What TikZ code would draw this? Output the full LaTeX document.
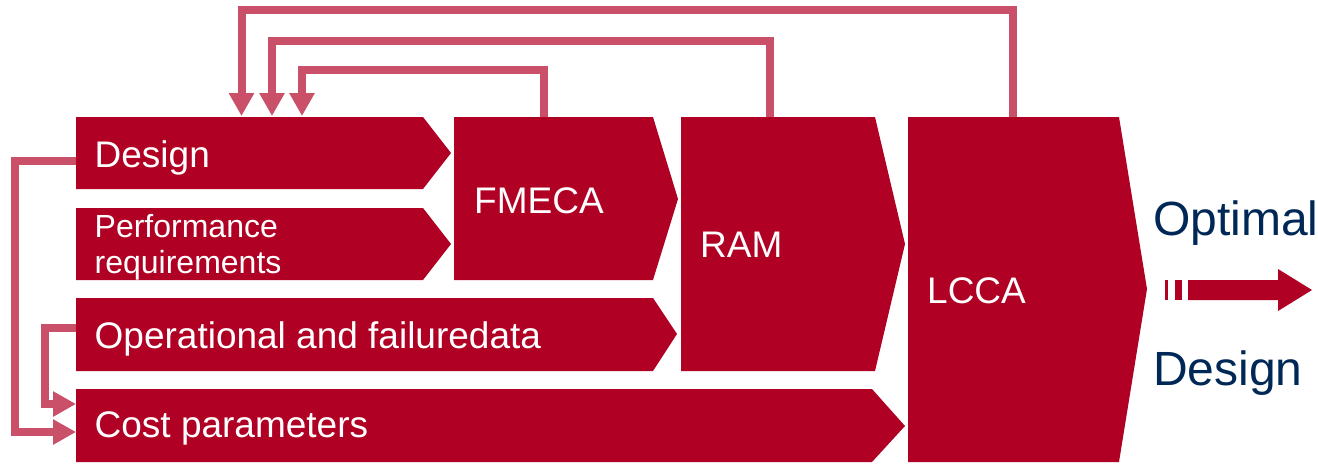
\documentclass[tikz,border=0pt]{standalone}
\usepackage{fontspec}
\setmainfont{Liberation Sans}
\usetikzlibrary{arrows.meta}
\definecolor{boxred}{RGB}{176,0,36}
\definecolor{linkred}{RGB}{201,80,104}
\definecolor{textblue}{RGB}{0,40,86}
\tikzset{
  boxtext/.style={text=white, anchor=base west, inner sep=0pt, font=\fontsize{37}{37}\selectfont},
  smalltext/.style={boxtext, font=\fontsize{32}{36}\selectfont, align=left},
  outtext/.style={text=textblue, anchor=base west, inner sep=0pt, font=\fontsize{48}{48}\selectfont},
  feedback/.style={draw=linkred, line width=8pt, -{Triangle[width=24pt,length=23pt]}},
}
\begin{document}
\begin{tikzpicture}[x=1pt, y=-1pt]
        \useasboundingbox (0,0) rectangle (1318,464);

        % Design
        \fill[boxred] (76,117) -- (423,117) -- (451,153) -- (423,189) -- (76,189) -- cycle;
        \node[boxtext] (design) at (94.5,167) {Design};

        % Performance requirements
        \fill[boxred] (76,208) -- (423,208) -- (451,244) -- (423,280) -- (76,280) -- cycle;
        \node[smalltext] (perf) at (94.5,273) {Performance\\requirements};

        % FMECA
        \fill[boxred] (454,117) -- (653,117) -- (678,199) -- (653,280) -- (454,280) -- cycle;
        \node[boxtext] (fmeca) at (474,213) {FMECA};

        % RAM
        \fill[boxred] (681,117) -- (875,117) -- (905,244) -- (875,371) -- (681,371) -- cycle;
        \node[boxtext] (ram) at (700,257) {RAM};

        % Operational data
        \fill[boxred] (76,298) -- (653,298) -- (677,334) -- (653,371) -- (76,371) -- cycle;
        \node[boxtext] (oper) at (94.5,348) {Operational and failuredata};

        % Cost parameters
        \fill[boxred] (76,389) -- (872,389) -- (905,426) -- (872,462) -- (76,462) -- cycle;
        \node[boxtext] (cost) at (94.5,437) {Cost parameters};

        % LCCA
        \fill[boxred] (908,117) -- (1119,117) -- (1147,289) -- (1119,462) -- (908,462) -- cycle;
        \node[boxtext] (lcca) at (927,303) {LCCA};

        % Result
        \node[outtext] (optimal) at (1153,235) {Optimal};
        \node[outtext] (optdesign) at (1153,385) {Design};
        \fill[boxred] (1165,280) rectangle (1167.5,300);
        \fill[boxred] (1175,280) rectangle (1182,300);
        \fill[boxred] (1188,280) -- (1278,280) -- (1278,269) -- (1312,290) -- (1278,311) -- (1278,300) -- (1188,300) -- cycle;

        % Connection points
        \coordinate (fmeca top) at (544,117);
        \coordinate (ram top) at (770,117);
        \coordinate (lcca top) at (1013,117);
        \coordinate (design in1) at (241.5,116);
        \coordinate (design in2) at (272,116);
        \coordinate (design in3) at (302,116);
        \coordinate (design out) at (76,161);
        \coordinate (oper out) at (76,328);
        \coordinate (cost in1) at (76,404);
        \coordinate (cost in2) at (76,432);

        % Feedback
        \draw[feedback] (lcca top) -- (lcca top |- 0,10) -| (design in1);
        \draw[feedback] (ram top) -- (ram top |- 0,41) -| (design in2);
        \draw[feedback] (fmeca top) -- (fmeca top |- 0,70) -| (design in3);
        \draw[feedback] (design out) -- (15,161) |- (cost in2);
        \draw[feedback] (oper out) -- (44.5,328) |- (cost in1);
    \end{tikzpicture}
\end{document}
